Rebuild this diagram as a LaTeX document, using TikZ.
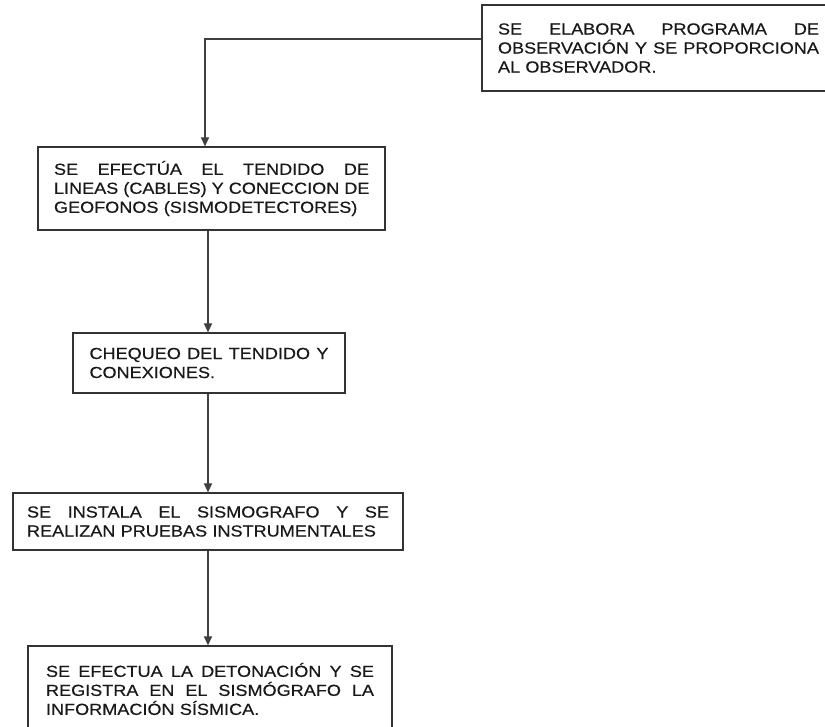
\documentclass[tikz,border=0pt]{standalone}
\usepackage{fontspec}
\setmainfont[FakeStretch=1.13,FakeBold=0.4]{Liberation Sans}
\usetikzlibrary{arrows.meta}

% one justified line: its word spaces spread to the full text width
\newcommand{\fullline}[1]{\leavevmode\hbox to \hsize{\spaceskip=\fontdimen2\font plus 1fil\relax #1}\\}

\tikzset{
  stepbox/.style={draw=black!80, line width=1.2pt, fill=white, align=left,
    inner ysep=0pt, text=black!90,
    font=\fontsize{16pt}{19pt}\selectfont},
  flow/.style={draw=black!75, line width=1.1pt,
    -{Triangle[length=9pt,width=8pt]}}
}

\begin{document}
\begin{tikzpicture}[x=1pt,y=-1pt]
  \clip (0,0) rectangle (825,726);
  \fill[white] (0,0) rectangle (825,726);

  \node[stepbox, text width=321pt, inner xsep=16pt, minimum height=86pt]
    (prog) at (658.5,48) {\fullline{SE ELABORA PROGRAMA DE}\fullline{OBSERVACIÓN Y SE PROPORCIONA}AL OBSERVADOR.};

  \node[stepbox, text width=315pt, inner xsep=16pt, minimum height=83pt]
    (tend) at (211.5,188.5) {\fullline{SE EFECTÚA EL TENDIDO DE}\fullline{LINEAS (CABLES) Y CONECCION DE}GEOFONOS (SISMODETECTORES)};

  \node[stepbox, text width=239pt, inner xsep=16.5pt, minimum height=60pt]
    (cheq) at (209,363) {\fullline{CHEQUEO DEL TENDIDO Y}CONEXIONES.};

  \node[stepbox, text width=362pt, inner xsep=14pt, minimum height=57pt]
    (sism) at (208,521.5) {\fullline{SE INSTALA EL SISMOGRAFO Y SE}REALIZAN PRUEBAS INSTRUMENTALES};

  \node[stepbox, text width=328pt, inner xsep=18pt, minimum height=86pt]
    (deto) at (210,689) {\fullline{SE EFECTUA LA DETONACIÓN Y SE}\fullline{REGISTRA EN EL SISMÓGRAFO LA}INFORMACIÓN SÍSMICA.};

  \draw[flow] ([yshift=9pt]prog.west) -| ([xshift=-6.5pt]tend.north);
  \draw[flow] (tend.south -| sism.north) -- (cheq.north -| sism.north);
  \draw[flow] (cheq.south -| sism.north) -- (sism.north);
  \draw[flow] (sism.south) -- (deto.north -| sism.south);
\end{tikzpicture}
\end{document}
